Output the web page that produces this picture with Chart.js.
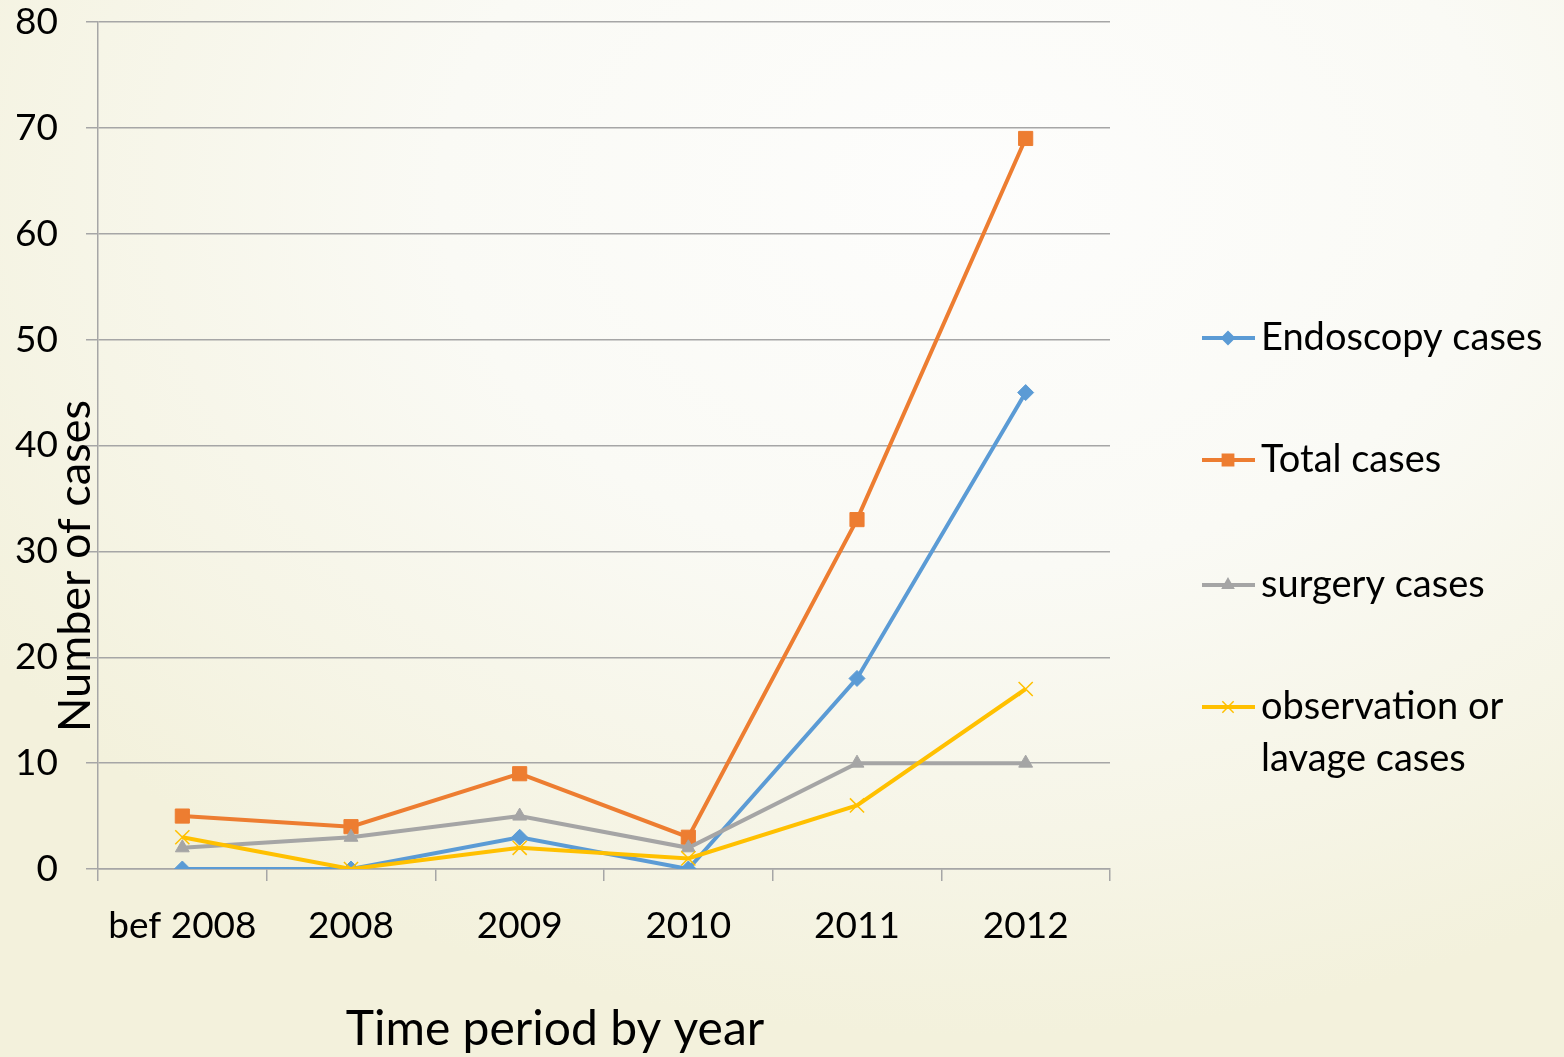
<!DOCTYPE html>
<html lang="en">
<head>
    <meta charset="UTF-8">
    <title>Number of cases by time period</title>
    <script src="https://cdn.jsdelivr.net/npm/chart.js"></script>
    <style>
        html, body { margin: 0; padding: 0; }
        body {
            width: 1564px;
            height: 1057px;
            overflow: hidden;
            background: radial-gradient(ellipse 75% 80% at 62% 18%, #fdfdfc 0%, #fafaf5 45%, #f3f1dc 100%);
        }
        canvas { display: block; }
    </style>
</head>
<body>
    <canvas id="chartCases" width="1564" height="1057"></canvas>

    <script>
        // Datos
        const periods = ['bef 2008', '2008', '2009', '2010', '2011', '2012'];
        const endoscopy = [0, 0, 3, 0, 18, 45];
        const total = [5, 4, 9, 3, 33, 69];
        const surgery = [2, 3, 5, 2, 10, 10];
        const observation = [3, 0, 2, 1, 6, 17];

        const yTicks = [0, 10, 20, 30, 40, 50, 60, 70, 80];
        const legendLabels = [
            ['Endoscopy cases'],
            ['Total cases'],
            ['surgery cases'],
            ['observation or', 'lavage cases']
        ];

        const FONT = 'Lato, "Open Sans", sans-serif';
        const GRID = '#a6a6a6';

        const series = [
            { label: 'Endoscopy cases', data: endoscopy, color: '#5b9bd5', style: 'rectRot', radius: 8, order: 3 },
            { label: 'Total cases', data: total, color: '#ed7d31', style: 'rect', radius: 10, order: 2 },
            { label: 'surgery cases', data: surgery, color: '#a5a5a5', style: 'triangle', radius: 8, order: 1 },
            { label: 'observation or lavage cases', data: observation, color: '#ffc000', style: 'crossRot', radius: 10, order: 0 }
        ];

        // Leyenda y títulos de ejes dibujados a mano
        const extrasPlugin = {
            id: 'extras',
            afterDraw(chart) {
                const ctx = chart.ctx;
                ctx.save();
                ctx.fillStyle = '#000';

                // título eje X
                ctx.font = '48px ' + FONT;
                ctx.textAlign = 'center';
                ctx.textBaseline = 'middle';
                ctx.fillText('Time period by year', 555, 1030);

                // título eje Y (encima de las etiquetas)
                ctx.save();
                ctx.translate(75, 566);
                ctx.rotate(-Math.PI / 2);
                ctx.font = '45px ' + FONT;
                ctx.fillText('Number of cases', 0, 0);
                ctx.restore();

                // leyenda
                const rows = [338, 460, 585, 707];
                ctx.font = '38px ' + FONT;
                ctx.textAlign = 'left';
                series.forEach((s, i) => {
                    const y = rows[i];
                    ctx.strokeStyle = s.color;
                    ctx.lineWidth = 4;
                    ctx.beginPath();
                    ctx.moveTo(1202, y);
                    ctx.lineTo(1255, y);
                    ctx.stroke();
                    ctx.fillStyle = s.color;
                    ctx.lineWidth = 1.5;
                    Chart.helpers.drawPoint(ctx, {
                        pointStyle: s.style,
                        radius: s.radius * 0.8,
                        borderWidth: 1.5,
                        rotation: 0
                    }, 1228, y);
                    ctx.fillStyle = '#000';
                    legendLabels[i].forEach((line, j) => {
                        ctx.fillText(line, 1261, y + j * 52);
                    });
                });
                ctx.restore();
            }
        };

        const ctx = document.getElementById('chartCases').getContext('2d');
        new Chart(ctx, {
            type: 'line',
            data: {
                labels: periods,
                datasets: series.map(s => ({
                    label: s.label,
                    data: s.data,
                    order: s.order,
                    borderColor: s.color,
                    backgroundColor: s.color,
                    borderWidth: 4,
                    pointStyle: s.style,
                    pointRadius: s.radius,
                    pointBorderWidth: s.style === 'crossRot' ? 1.5 : 1,
                    pointBorderColor: s.color,
                    pointBackgroundColor: s.color,
                    tension: 0,
                    fill: false
                }))
            },
            options: {
                responsive: false,
                animation: false,
                events: [],
                layout: { padding: { left: 0, right: 454, top: 22, bottom: 0 } },
                plugins: {
                    legend: { display: false },
                    tooltip: { enabled: false }
                },
                scales: {
                    x: {
                        offset: true,
                        afterFit(scale) { scale.height = 188; },
                        grid: {
                            offset: true,
                            drawOnChartArea: false,
                            drawTicks: true,
                            tickLength: 12,
                            color: GRID,
                            lineWidth: 1.5
                        },
                        border: { display: true, color: GRID, width: 1.5 },
                        ticks: {
                            color: '#000',
                            padding: 23,
                            maxRotation: 0,
                            font: { family: FONT, size: 37 }
                        }
                    },
                    y: {
                        min: 0,
                        max: 80,
                        afterFit(scale) {
                            scale.width = 98;
                            scale.paddingTop = 0;
                            scale.paddingBottom = 0;
                        },
                        afterBuildTicks(scale) {
                            scale.ticks = yTicks.map(v => ({ value: v }));
                        },
                        grid: {
                            color: GRID,
                            lineWidth: 1.5,
                            tickLength: 12
                        },
                        border: { display: true, color: GRID, width: 1.5 },
                        ticks: {
                            color: '#000',
                            padding: 28,
                            font: { family: FONT, size: 37 }
                        }
                    }
                }
            },
            plugins: [extrasPlugin]
        });
    </script>
</body>
</html>
